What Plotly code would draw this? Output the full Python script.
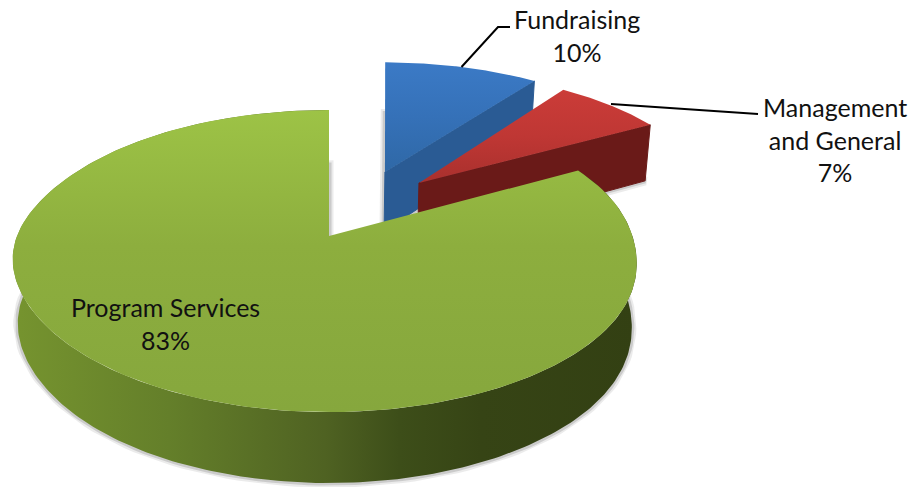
import numpy as np
import plotly.graph_objects as go

categories = ["Program Services", "Fundraising", "Management and General"]
label_lines = ["Program Services", "Fundraising", "Management<br>and General"]
values = [83, 10, 7]
explode_u = [0.0, 0.196, 0.311]
explode_v = [0.0, 0.470, 0.384]
skews = [0.0, 0.07, 0.03]
top_gradients = [["#9dc346", "#8dae3e", "#86a73d"], ["#3b7ac6", "#3571b8", "#2f68a6"], ["#cb3c38", "#bf3734", "#a9302d"]]
wall_colors = ["#7a9a33", "#2a5b94", "#6a1a18"]
label_pos = [(165, 323), (577, 35), (835, 139)]
leaders = [None, [(461.5, 67), (498, 27), (510, 27)], [(611, 104), (748, 114), (758, 114)]]

CX, CY, A, B, K = 329.0, 236.0, 146.9, 307.7, 0.1656
W, H = 915, 487


def proj(u, v, du=0.0, dv=0.0, skew=0.0, low=False, bulge=0.0):
    u0, v0 = np.asarray(u, float), np.asarray(v, float)
    uu, vv = u0 + du, v0 + dv
    w = 1 + K * vv
    x = CX + B * uu / w
    y = CY - A * vv / w
    ya = CY - A * dv / (1 + K * dv)
    x = x + skew * (ya - y)
    x = x + bulge * u0 ** 2 * np.exp(-((v0 + 0.1) / 0.45) ** 2)
    if low:
        x = CX + (x - CX) * 0.984
        y = y + 63 - 8 * vv
    return x, y


def arc(a0, a1, n=160):
    t = np.radians(np.linspace(a0, a1, n))
    return np.sin(t), np.cos(t)


total = sum(values)
spans = [360 * v / total for v in values]
# Fundraising starts at 12 o'clock, then Management, then Program Services
a_blue = (0, spans[1])
a_red = (spans[1], spans[1] + spans[2])
a_green = (a_red[1], 360)
angles = [a_green, a_blue, a_red]
bulges = [-4.5, 0.0, 0.0]

fig = go.Figure()


def poly(x, y, color=None, grad=None, line=None, lw=0):
    kw = dict(x=list(x), y=list(y), mode="lines", hoverinfo="skip", showlegend=False,
              line=dict(width=lw, color=line or "rgba(0,0,0,0)"))
    if grad is not None:
        kw["fill"] = "toself"
        kw["fillgradient"] = grad
    elif color is not None:
        kw["fill"] = "toself"
        kw["fillcolor"] = color
    fig.add_trace(go.Scatter(**kw))


def wedge(i, low=False):
    su, sv = arc(*angles[i])
    u = np.r_[0, su, 0]
    v = np.r_[0, sv, 0]
    return proj(u, v, explode_u[i], explode_v[i], skews[i], low, bulges[i])


# soft shadows along the lower faces
for i in [1, 2, 0]:
    x, y = wedge(i, True)
    poly(x, y, line="rgba(60,60,60,0.10)", lw=9)
    poly(x, y, line="rgba(60,60,60,0.18)", lw=5)

# exploded slices, back to front
for i in [1, 2]:
    a1 = angles[i][1]
    su, sv = arc(a1, a1, 1)
    xa, ya = proj([0], [0], explode_u[i], explode_v[i], skews[i])
    xb, yb = proj(su, sv, explode_u[i], explode_v[i], skews[i])
    xc, yc = proj(su, sv, explode_u[i], explode_v[i], skews[i], True)
    xd, yd = proj([0], [0], explode_u[i], explode_v[i], skews[i], True)
    poly(np.r_[xa, xb, xc, xd, xa], np.r_[ya, yb, yc, yd, ya], color=wall_colors[i], line=wall_colors[i], lw=1)
    xt, yt = wedge(i)
    g = top_gradients[i]
    poly(xt, yt, grad=dict(type="vertical", colorscale=[[0, g[2]], [0.5, g[1]], [1, g[0]]]))

# main slice side wall then top
su, sv = arc(*angles[0], 300)
xt, yt = proj(su, sv, bulge=bulges[0])
xl, yl = proj(su, sv, low=True, bulge=bulges[0])
poly(np.r_[xt, xl[::-1], xt[0]], np.r_[yt, yl[::-1], yt[0]],
     grad=dict(type="horizontal", colorscale=[[0, "#76942f"], [0.25, "#647f2a"], [0.5, "#4f6222"],
                                              [0.62, "#3d4e19"], [0.75, "#364415"], [1, "#334013"]]))
xt, yt = wedge(0)
g = top_gradients[0]
poly(xt, yt, grad=dict(type="vertical", colorscale=[[0, g[2]], [0.55, g[1]], [1, g[0]]]))

# leader lines
for pts in leaders:
    if pts:
        fig.add_trace(go.Scatter(x=[p[0] for p in pts], y=[p[1] for p in pts], mode="lines",
                                 line=dict(color="black", width=2), hoverinfo="skip", showlegend=False))

for i, (txt, val) in enumerate(zip(label_lines, values)):
    fig.add_annotation(x=label_pos[i][0], y=label_pos[i][1], text=f"{txt}<br>{val}%", showarrow=False,
                       xanchor="center", yanchor="middle", align="center",
                       font=dict(family="Lato", size=25, color="#111111"))

fig.update_layout(width=W, height=H, margin=dict(l=0, r=0, t=0, b=0), paper_bgcolor="white",
                  plot_bgcolor="white", showlegend=False,
                  xaxis=dict(range=[0, W], visible=False, fixedrange=True),
                  yaxis=dict(range=[H, 0], visible=False, fixedrange=True))
fig.write_html("out.html", config={"displayModeBar": False},
               post_script="document.body.style.margin='0';document.body.style.overflow='hidden';")
